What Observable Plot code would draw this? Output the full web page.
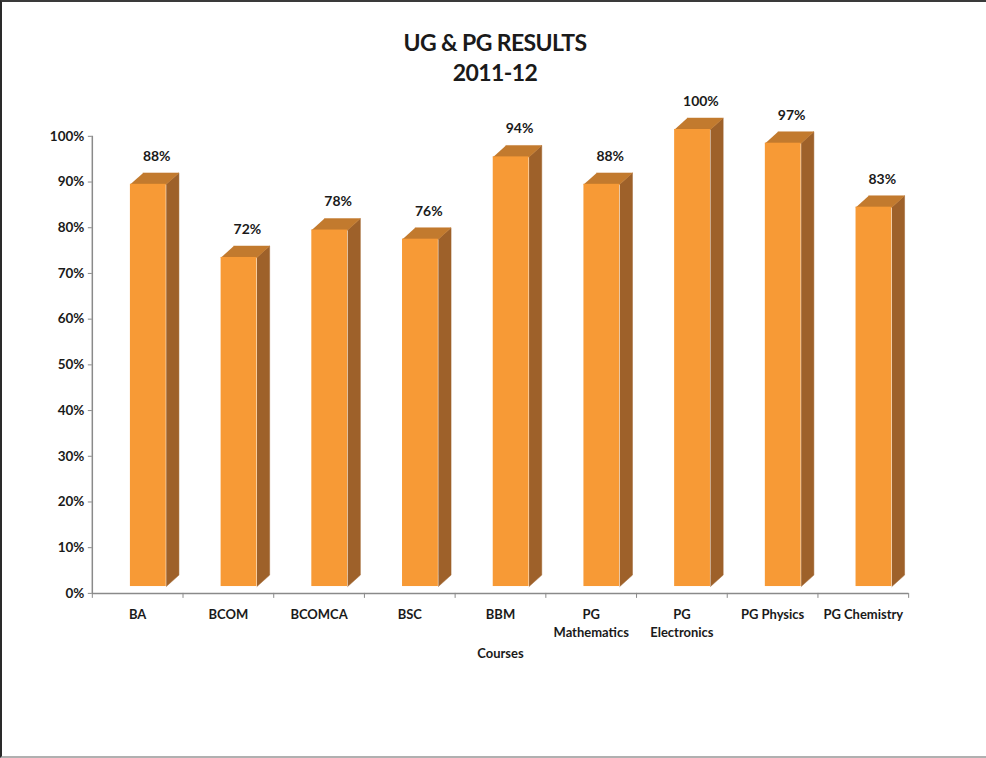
<!DOCTYPE html>
<html>
<head>
<meta charset="utf-8">
<script src="https://cdn.jsdelivr.net/npm/d3@7"></script>
<script src="https://cdn.jsdelivr.net/npm/@observablehq/plot@0.6"></script>
<style>
  html, body { margin: 0; padding: 0; background: #fff; }
  #frame {
    position: relative; width: 986px; height: 758px; box-sizing: border-box;
    border-top: 2px solid #3a3a3a; border-left: 2px solid #2a2a2a; border-bottom: 2px solid #b0b0b0;
    font-family: Lato, "Open Sans", sans-serif; color: #1a1a1a; overflow: hidden;
  }
  #title {
    position: absolute; left: 0; top: 25px; width: 986px; text-align: center;
    font-weight: bold; font-size: 23px; line-height: 30px; letter-spacing: -0.6px;
  }
  #chart { position: absolute; left: -2px; top: 50px; }
  #chart text { font-family: Lato, "Open Sans", sans-serif; }
</style>
</head>
<body>
<div id="frame">
  <div id="title">UG &amp; PG RESULTS<br>2011-12</div>
  <div id="chart"></div>
</div>
<script>
const courses = ["BA", "BCOM", "BCOMCA", "BSC", "BBM", "PG Mathematics", "PG Electronics", "PG Physics", "PG Chemistry"];
const courseLabels = ["BA", "BCOM", "BCOMCA", "BSC", "BBM", "PG\nMathematics", "PG\nElectronics", "PG Physics", "PG Chemistry"];
const results = [88, 72, 78, 76, 94, 88, 100, 97, 83];
const yTicks = [0, 10, 20, 30, 40, 50, 60, 70, 80, 90, 100];

// 3D bar geometry (in scale units)
const FX1 = 0.42, FX2 = 0.815; // front face within each category slot
const FY = 1.5;                // front face lift
const DX = 0.14, DY = 2.5;     // depth offset

const data = courses.map((c, i) => ({i, course: c, label: courseLabels[i], value: results[i]}));

const sides = [], tops = [];
for (const d of data) {
  const x1 = d.i + FX1, x2 = d.i + FX2, v = d.value + FY;
  [[x2, FY], [x2 + DX, FY + DY], [x2 + DX, v + DY], [x2, v]].forEach(([x, y]) => sides.push({k: d.i, x, y}));
  [[x1, v], [x2, v], [x2 + DX, v + DY], [x1 + DX, v + DY]].forEach(([x, y]) => tops.push({k: d.i, x, y}));
}

const chart = Plot.plot({
  width: 988,
  height: 628,
  marginLeft: 92,
  marginRight: 78,
  marginTop: 84,
  marginBottom: 86,
  style: {fontSize: "13px", fontWeight: "bold", color: "#1a1a1a", background: "transparent"},
  x: {type: "linear", domain: [0, courses.length], axis: null},
  y: {domain: [0, 100], axis: null},
  marks: [
    Plot.axisY({ticks: yTicks, tickFormat: d => d + "%", tickSize: 4, tickPadding: 4, stroke: "#8a8a8a", fontSize: 13.5, fontWeight: "bold", label: null}),
    Plot.axisX({ticks: d3.range(courses.length + 1), tickFormat: () => "", tickSize: 5, stroke: "#8a8a8a", label: null}),
    Plot.ruleX([0], {stroke: "#8a8a8a", strokeWidth: 1.5}),
    Plot.ruleY([0], {stroke: "#8a8a8a", strokeWidth: 1.5}),
    Plot.line(sides, {x: "x", y: "y", z: "k", fill: "#9E612A", stroke: "#9E612A", strokeWidth: 0.5}),
    Plot.line(tops, {x: "x", y: "y", z: "k", fill: "#C27A2E", stroke: "#C27A2E", strokeWidth: 0.5}),
    Plot.rect(data, {x1: d => d.i + FX1, x2: d => d.i + FX2, y1: FY, y2: d => d.value + FY, fill: "#F79A36"}),
    Plot.text(data, {x: d => d.i + 0.71, y: "value", text: d => d.value + "%", dy: -35, fontSize: 14, fontWeight: "bold", fill: "#1a1a1a"}),
    Plot.text(data, {x: d => d.i + 0.5, y: 0, text: "label", dy: 13, lineAnchor: "top", lineHeight: 1.4, fontSize: 13, fontWeight: "bold", fill: "#1a1a1a"}),
    Plot.text(["Courses"], {x: courses.length / 2, y: 0, text: d => d, dy: 56, lineAnchor: "top", fontSize: 13, fontWeight: "bold", fill: "#1a1a1a"})
  ]
});
document.getElementById("chart").appendChild(chart);
</script>
</body>
</html>
